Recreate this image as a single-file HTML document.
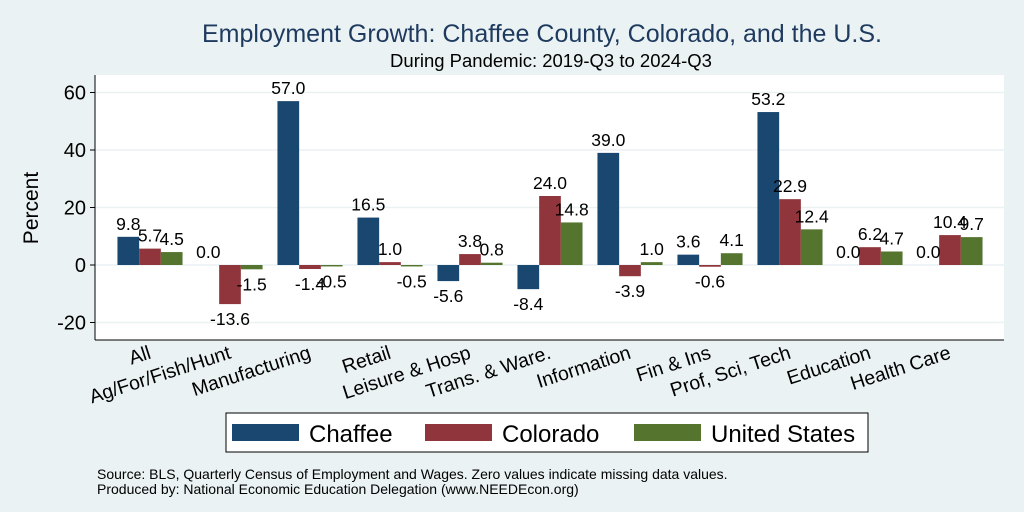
<!DOCTYPE html>
<html><head><meta charset="utf-8"><style>
body{margin:0;background:#eaf2f3;}
svg{display:block;font-family:"Liberation Sans",Arial,sans-serif;}
</style></head><body>
<svg id="c" width="1024" height="512">
<rect x="0" y="0" width="1024" height="512" fill="#eaf2f3"/>
<text x="542" y="42" font-size="25" fill="#1e3a5f" text-anchor="middle">Employment Growth: Chaffee County, Colorado, and the U.S.</text>
<text x="551" y="67" font-size="18.5" fill="#000" text-anchor="middle">During Pandemic: 2019-Q3 to 2024-Q3</text>
<rect x="95" y="75" width="909" height="265" fill="#fff"/>
<g id="grid"></g><g id="bars"></g><g id="labels"></g>
<line x1="95" y1="75" x2="95" y2="340" stroke="#000"/>
<line x1="95" y1="340" x2="1004" y2="340" stroke="#000"/>
<text transform="translate(38,208) rotate(-90)" font-size="21" text-anchor="middle">Percent</text>
<rect x="226" y="413" width="642" height="39" fill="#fff" stroke="#000"/>
<g><rect x="232" y="424" width="67" height="17" fill="#1a476f"/><text x="309" y="442" font-size="24">Chaffee</text></g>
<g><rect x="425" y="424" width="67" height="17" fill="#90353b"/><text x="502" y="442" font-size="24">Colorado</text></g>
<g><rect x="634" y="424" width="67" height="17" fill="#55752f"/><text x="711" y="442" font-size="24">United States</text></g>
<text x="97" y="479" font-size="14">Source: BLS, Quarterly Census of Employment and Wages. Zero values indicate missing data values.</text>
<text x="97" y="494" font-size="14">Produced by: National Economic Education Delegation (www.NEEDEcon.org)</text>
</svg>
<script>
const categories=["All","Ag/For/Fish/Hunt","Manufacturing","Retail","Leisure & Hosp","Trans. & Ware.","Information","Fin & Ins","Prof, Sci, Tech","Education","Health Care"];
const chaffee=[9.8,0.0,57.0,16.5,-5.6,-8.4,39.0,3.6,53.2,0.0,0.0];
const colorado=[5.7,-13.6,-1.4,1.0,3.8,24.0,-3.9,-0.6,22.9,6.2,10.4];
const us=[4.5,-1.5,-0.5,-0.5,0.8,14.8,1.0,4.1,12.4,4.7,9.7];
const yTicks=[-20,0,20,40,60];
const NS="http://www.w3.org/2000/svg";
function y(v){return 265-v*2.875;}
function gx(i){return 150+i*80;}
const bw=21.7;
function mk(tag,attrs,parent){const e=document.createElementNS(NS,tag);for(const k in attrs)e.setAttribute(k,attrs[k]);document.getElementById(parent).appendChild(e);return e;}
yTicks.forEach(t=>{
  const l=mk('line',{x1:95,x2:1004,y1:y(t),y2:y(t),stroke:'#eaf2f3','stroke-width':1.5},'grid');
  
  
  const tk=mk('line',{x1:90,x2:95,y1:y(t),y2:y(t),stroke:'#000'},'grid');
  
  
  const tx=mk('text',{x:86,y:y(t)+7,'font-size':20,'text-anchor':'end'},'grid');
  tx.textContent=t;
  
  
});
const series=[[chaffee,'#1a476f','chaffee'],[colorado,'#90353b','colorado'],[us,'#55752f','us']];
categories.forEach((c,i)=>{
  series.forEach(([arr,col,nm],s)=>{
    const v=arr[i];const x0=gx(i)-bw*1.5+s*bw;
    const r=mk('rect',{x:x0,y:Math.min(y(v),y(0)),width:bw,height:Math.abs(y(v)-y(0)),fill:col},'bars');
    
    
    const ty=v>=0?y(v)-7:y(v)+21;
    const t=mk('text',{x:x0+bw/2,y:ty,'font-size':17.5,'text-anchor':'middle'},'labels');
    t.textContent=v.toFixed(1);
    
    
  });
  const xl=mk('text',{transform:'translate('+(gx(i)+2)+',358) rotate(-18)','font-size':19.5,'text-anchor':'end'},'labels');
  xl.textContent=c;
  
  
});
</script>
</body></html>
